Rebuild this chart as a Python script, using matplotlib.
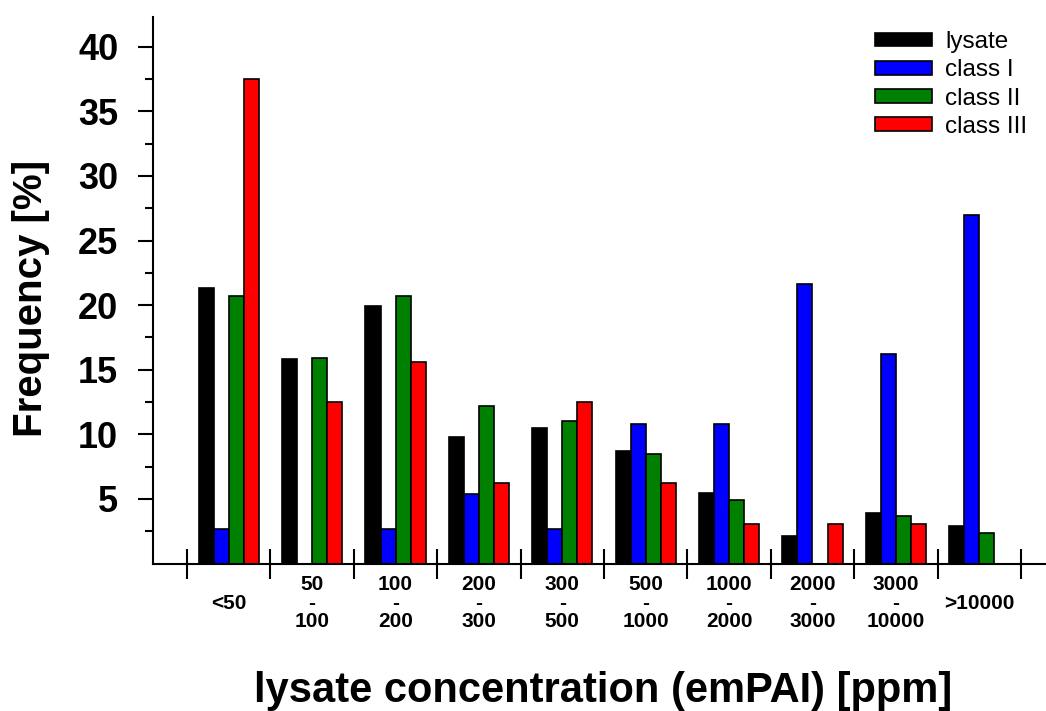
import matplotlib
matplotlib.use("Agg")
import matplotlib.pyplot as plt
import numpy as np

plt.rcParams.update({"font.family": ["Liberation Sans", "DejaVu Sans"]})

# concentration bins (emPAI, ppm)
bins = ["<50", "50\n-\n100", "100\n-\n200", "200\n-\n300",
        "300\n-\n500", "500\n-\n1000", "1000\n-\n2000",
        "2000\n-\n3000", "3000\n-\n10000", ">10000"]
series = ["lysate", "class I", "class II", "class III"]
lysate = [21.3, 15.8, 19.9, 9.8, 10.5, 8.7, 5.5, 2.1, 3.9, 2.9]
class_1 = [2.7, 0.0, 2.7, 5.4, 2.7, 10.8, 10.8, 21.6, 16.2, 27.0]
class_2 = [20.7, 15.9, 20.7, 12.2, 11.0, 8.5, 4.9, 0.0, 3.7, 2.4]
class_3 = [37.5, 12.5, 15.6, 6.25, 12.5, 6.25, 3.1, 3.1, 3.1, 0.0]
colors = ["#000000", "#0000ff", "#008000", "#ff0000"]

fig = plt.figure(figsize=(10.46, 7.11), dpi=100)
W, H = 1046, 711
ax = fig.add_axes([153 / W, 1 - 563.6 / H, (1046 - 153) / W, (563.6 - 17) / H])

x = np.arange(len(bins))
w = 0.18
for k, (vals, name, c) in enumerate(zip([lysate, class_1, class_2, class_3], series, colors)):
    ax.bar(x + (k - 1.5) * w, vals, width=w, color=c, edgecolor="black",
           linewidth=1.2, label=name, zorder=2)

ax.set_xlim(-0.908, 9.8)
ax.set_ylim(0, 42.3)

for s in ["top", "right"]:
    ax.spines[s].set_visible(False)
for s in ["left", "bottom"]:
    ax.spines[s].set_linewidth(1.5)

# y axis
ax.set_yticks(np.arange(5, 41, 5))
ax.set_yticks(np.arange(2.5, 42, 5), minor=True)
ax.tick_params(axis="y", which="major", direction="out", length=11, width=1.5,
               pad=14, labelsize=26)
ax.tick_params(axis="y", which="minor", direction="out", length=6, width=1.5)
for lab in ax.get_yticklabels():
    lab.set_fontweight("bold")

# x axis: boundary ticks, labels at bin centres
ax.set_xticks(np.arange(-0.5, 10, 1))
ax.set_xticklabels([])
ax.tick_params(axis="x", which="major", direction="inout", length=22, width=1.5)
ax.set_xticks(x, minor=True)
ax.set_xticklabels(bins, minor=True)
ax.tick_params(axis="x", which="minor", length=0, pad=28.5, labelsize=15)
for lab in ax.get_xticklabels(minor=True):
    lab.set_fontweight("bold")
    lab.set_verticalalignment("center")
    lab.set_linespacing(0.97)

ax.set_ylabel("Frequency [%]", fontsize=29, fontweight="bold")
ax.yaxis.set_label_coords(-0.1153, 0.486)
ax.set_xlabel("lysate concentration (emPAI) [ppm]", fontsize=30,
              fontweight="bold", va="baseline")
ax.xaxis.set_label_coords(0.504, -0.2532)

ax.legend(loc="upper left", bbox_to_anchor=(875 / W, 1 - 31 / H),
          bbox_transform=fig.transFigure, frameon=False, fontsize=17.5,
          handlelength=2.35, handleheight=0.49, handletextpad=0.53,
          labelspacing=0.26, borderpad=0, borderaxespad=0)

fig.savefig("out.png", dpi=100)
